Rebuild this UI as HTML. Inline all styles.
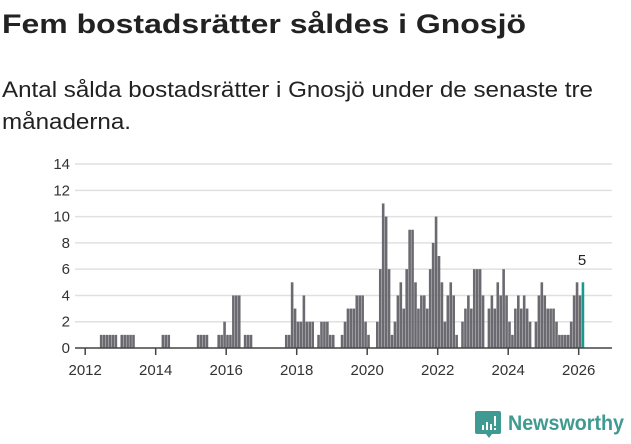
<!DOCTYPE html>
<html><head><meta charset="utf-8"><style>
body{margin:0;width:631px;height:439px;background:#fff;overflow:hidden;font-family:"Liberation Sans",sans-serif;}
</style></head><body>
<svg width="631" height="439" xmlns="http://www.w3.org/2000/svg" font-family="Liberation Sans, sans-serif">
<text x="2" y="33" font-size="27" font-weight="bold" fill="#222" textLength="524" lengthAdjust="spacingAndGlyphs">Fem bostadsrätter såldes i Gnosjö</text>
<text x="2" y="97" font-size="22" fill="#222" textLength="591" lengthAdjust="spacingAndGlyphs">Antal sålda bostadsrätter i Gnosjö under de senaste tre</text>
<text x="2" y="129" font-size="22" fill="#222" textLength="129" lengthAdjust="spacingAndGlyphs">månaderna.</text>
<g id="grid" stroke="#e0e0e0" stroke-width="1.5"></g>
<g id="yl" font-size="15" fill="#333" text-anchor="end"></g>
<g id="bars"></g>
<line x1="75" y1="348" x2="612" y2="348" stroke="#444" stroke-width="1.5"/>
<g id="ticks" stroke="#444" stroke-width="1.5"></g>
<g id="xl" font-size="15" fill="#333" text-anchor="middle"></g>
<text x="582" y="265" font-size="15" fill="#222" text-anchor="middle">5</text>
<g>
<path d="M477 411 h22 a2 2 0 0 1 2 2 v19 a2 2 0 0 1 -2 2 h-7 l-3 4 l-3 -4 h-9 a2 2 0 0 1 -2 -2 v-19 a2 2 0 0 1 2 -2z" fill="#3f9a91"/>
<rect x="482" y="425" width="2" height="5" fill="#fff"/><rect x="486" y="422" width="2" height="8" fill="#fff"/><rect x="490" y="424" width="2" height="6" fill="#fff"/><rect x="494" y="416" width="2" height="10" fill="#fff"/><rect x="494" y="428" width="2" height="2" fill="#fff"/>
<text x="508" y="430" font-size="21" font-weight="bold" fill="#3f9a91" textLength="116" lengthAdjust="spacingAndGlyphs">Newsworthy</text>
</g>
</svg>
<script>
const ns="http://www.w3.org/2000/svg";
function el(p,t,a,txt){const e=document.createElementNS(ns,t);for(const k in a)e.setAttribute(k,a[k]);if(txt!==undefined)e.textContent=txt;document.getElementById(p).appendChild(e);}
const u=13.14,base=348;
for(let v=0;v<=14;v+=2){const y=base-v*u;if(v>0)el("grid","line",{x1:75,x2:612,y1:y,y2:y});el("yl","text",{x:70,y:y+5},v);}
const d={};
function s(a,b,v){for(let m=a;m<=b;m++)d[m]=v;}
s(5,10,1);s(12,16,1);s(26,28,1);s(38,41,1);
Object.assign(d,{45:1,46:1,47:2,48:1,49:1,50:4,51:4,52:4});s(54,56,1);
Object.assign(d,{68:1,69:1,70:5,71:3,72:2,73:2,74:4,75:2,76:2,77:2,79:1,80:2,81:2,82:2,83:1,84:1,
87:1,88:2,89:3,90:3,91:3,92:4,93:4,94:4,95:2,96:1,99:2,100:6,101:11,102:10,103:6,104:1,105:2,106:4,107:5,108:3,109:6,110:9,111:9,112:5,113:3,114:4,115:4,116:3,117:6,118:8,119:10,120:7,
121:5,122:2,123:4,124:5,125:4,126:1,128:2,129:3,130:4,131:3,132:6,133:6,134:6,135:4,137:3,138:4,139:3,140:5,141:4,142:6,143:4,144:2,145:1,146:3,147:4,148:3,149:4,150:3,151:2,153:2,154:4,155:5,156:4,157:3,158:3,159:3,160:2,161:1,162:1,163:1,164:1,165:2,166:4,167:5,168:4,169:5});
for(const k in d){const m=+k,v=d[k];const x=85.2+m*2.9375;el("bars","rect",{x:x,y:base-v*u,width:2.6,height:v*u,fill:m==169?"#1a9a8e":"#6b6a70"});}
for(let yr=2012;yr<=2026;yr+=2){const x=85.2+(yr-2012)*35.25;el("ticks","line",{x1:x,x2:x,y1:348,y2:355});el("xl","text",{x:x,y:375},yr);}
</script>
</body></html>
